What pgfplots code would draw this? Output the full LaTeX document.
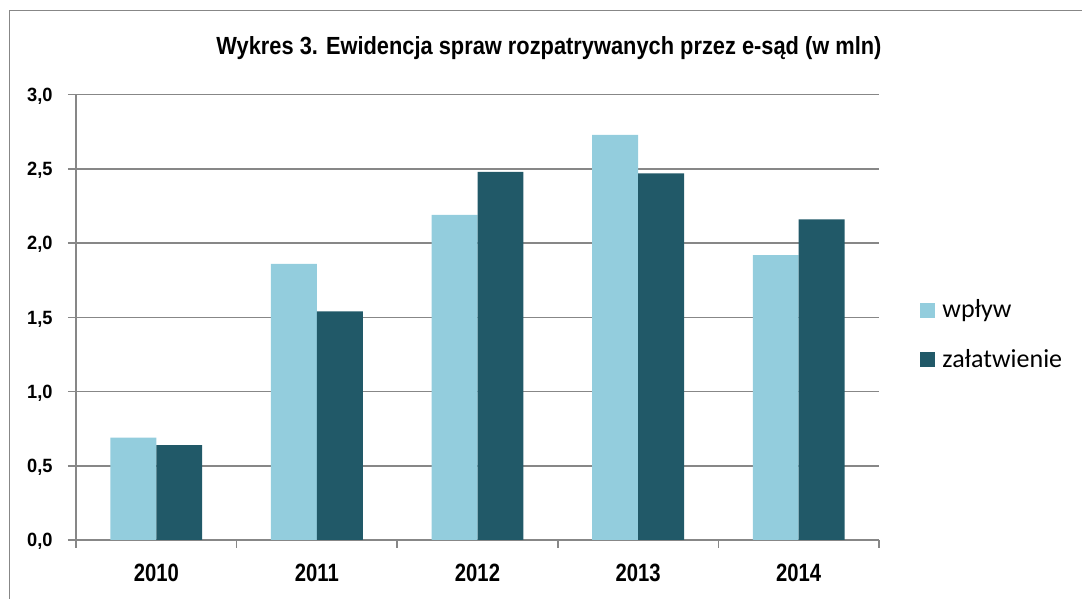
\documentclass[border=0pt]{standalone}
\usepackage{fontspec}
\setmainfont{Liberation Sans}
\newfontfamily\titlefont[FakeStretch=0.88]{Liberation Sans}
\newfontfamily\xfont[FakeStretch=0.81]{Liberation Sans}
\newfontfamily\yfont[FakeStretch=0.95]{Liberation Sans}
\newfontfamily\legfont{Carlito}
\usepackage{pgfplots}
\pgfplotsset{compat=1.18}
\definecolor{lightb}{HTML}{93CDDD}
\definecolor{darkb}{HTML}{215968}
\definecolor{gridc}{HTML}{878787}
\pgfplotsset{mysq/.style={legend image code/.code={\fill[##1,draw=none] (0pt,-3.75pt) rectangle (7.5pt,3.75pt); \path (11pt,0pt);}}}
\begin{document}
\begin{tikzpicture}
\useasboundingbox (0,0) rectangle (541pt,299.5pt);
\draw[gridc, line width=0.75pt] (4.75pt,-5pt) -- (4.75pt,294.15pt) -- (546pt,294.15pt);
\node[font=\titlefont\bfseries\fontsize{12.4}{14}\selectfont, anchor=base, inner sep=0pt] at (274.5pt,272.35pt) {Wykres 3. Ewidencja spraw rozpatrywanych przez e-sąd (w mln)};
\begin{axis}[
  at={(38pt,29.5pt)}, anchor=south west,
  scale only axis, width=401.5pt, height=222.65pt,
  xmin=-0.5, xmax=4.5, ymin=0, ymax=3,
  ybar=0pt, bar width=0.286,
  axis x line*=bottom, axis y line*=left,
  axis line style={gridc, line width=0.75pt},
  tick style={gridc, line width=0.75pt},
  tick align=outside, major tick length=4pt, minor tick length=4pt,
  xtick={0,1,2,3,4}, xticklabels={2010,2011,2012,2013,2014},
  major x tick style={draw=none},
  minor xtick={-0.5,0.5,1.5,2.5,3.5,4.5},
  xticklabel style={font=\xfont\bfseries\fontsize{12.5}{14}\selectfont, anchor=base, inner sep=0pt, yshift=-17pt},
  ytick={0,0.5,1,1.5,2,2.5,3},
  yticklabel style={font=\yfont\bfseries\fontsize{9.6}{11}\selectfont, anchor=east, inner sep=0pt, xshift=-7.5pt, yshift=-0.8pt},
  /pgf/number format/.cd, use comma, fixed, fixed zerofill, precision=1, assume math mode=true, /pgfplots/.cd,
  ymajorgrids, grid style={gridc, line width=0.75pt},
  every axis plot post/.append style={mysq},
  legend style={at={(1.0511,0.4604)}, anchor=west, draw=none, fill=none, inner sep=0pt,
    font=\legfont\fontsize{13}{15}\selectfont, nodes={inner sep=0pt}, column sep=0pt, row sep=14.3pt},
  legend cell align=left,
]
\addplot[fill=lightb, draw=none] coordinates {(0,0.69) (1,1.86) (2,2.19) (3,2.73) (4,1.92)};
\addplot[fill=darkb, draw=none] coordinates {(0,0.64) (1,1.54) (2,2.48) (3,2.47) (4,2.16)};
\legend{wpływ, załatwienie}
\end{axis}
\end{tikzpicture}
\end{document}
